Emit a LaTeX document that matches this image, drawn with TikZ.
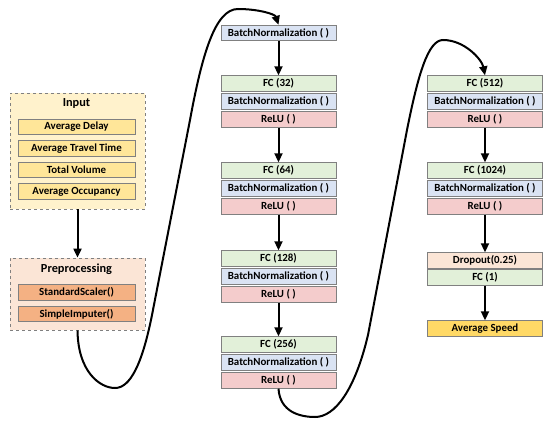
\documentclass[tikz,border=0pt]{standalone}
\usepackage{fontspec}
\setmainfont{Carlito}
\usetikzlibrary{arrows.meta}
\definecolor{inbg}{HTML}{FFF2CC}
\definecolor{initem}{HTML}{FFE699}
\definecolor{prebg}{HTML}{FBE5D6}
\definecolor{preitem}{HTML}{F4B183}
\definecolor{fcg}{HTML}{E2F0D9}
\definecolor{bnb}{HTML}{DAE3F3}
\definecolor{rlr}{HTML}{F4CCCC}
\definecolor{dro}{HTML}{FBE5D6}
\definecolor{avs}{HTML}{FFD966}
\definecolor{bord}{HTML}{808080}
\tikzset{
  layer/.style={draw=bord, line width=0.9pt, minimum width=115pt, minimum height=15.5pt, inner sep=0pt, font=\fontsize{10.9}{12}\selectfont\bfseries},
  fcbox/.style={layer, fill=fcg},
  bnbox/.style={layer, fill=bnb},
  relubox/.style={layer, fill=rlr},
  inbox/.style={layer, fill=initem, minimum width=117pt},
  prebox/.style={layer, fill=preitem, minimum width=117pt},
  grp/.style={draw=bord, dashed, line width=0.8pt, inner sep=0pt},
  ttl/.style={font=\fontsize{12.3}{14}\selectfont\bfseries},
  arr/.style={line width=2pt, -{Triangle[length=9pt,width=8pt]}},
}
\begin{document}
\begin{tikzpicture}[x=1pt,y=-1pt]
\useasboundingbox (0,0) rectangle (550,423);
% Input group
\node[grp, fill=inbg, minimum width=135pt, minimum height=116pt] (inp) at (77.5,151) {};
\node[ttl] (inpt) at (76.5,103) {Input};
\node[inbox] (i1) at (76.5,127) {Average Delay};
\node[inbox] (i2) at (76.5,148.5) {Average Travel Time};
\node[inbox] (i3) at (76.5,170) {Total Volume};
\node[inbox] (i4) at (76.5,191.5) {Average Occupancy};
% Preprocessing group
\node[grp, fill=prebg, minimum width=135pt, minimum height=72pt] (pre) at (77.5,294) {};
\node[ttl] (pret) at (76.5,269) {Preprocessing};
\node[prebox] (p1) at (76.5,292.5) {StandardScaler()};
\node[prebox] (p2) at (76.5,314) {SimpleImputer()};
% middle column
\node[bnbox] (bn0) at (278.5,33) {BatchNormalization ( )};
\node[fcbox] (fc1) at (278.5,83.5) {FC (32)};
\node[bnbox] (bn1) at (278.5,101.5) {BatchNormalization ( )};
\node[relubox] (r1) at (278.5,119.5) {ReLU ( )};
\node[fcbox] (fc2) at (278.5,170.5) {FC (64)};
\node[bnbox] (bn2) at (278.5,188.5) {BatchNormalization ( )};
\node[relubox] (r2) at (278.5,206.5) {ReLU ( )};
\node[fcbox] (fc3) at (278.5,258.5) {FC (128)};
\node[bnbox] (bn3) at (278.5,276.5) {BatchNormalization ( )};
\node[relubox] (r3) at (278.5,294.5) {ReLU ( )};
\node[fcbox] (fc4) at (278.5,344.5) {FC (256)};
\node[bnbox] (bn4) at (278.5,362.5) {BatchNormalization ( )};
\node[relubox] (r4) at (278.5,380.5) {ReLU ( )};
% right column
\node[fcbox] (fc5) at (485,83.5) {FC (512)};
\node[bnbox] (bn5) at (485,101.5) {BatchNormalization ( )};
\node[relubox] (r5) at (485,119.5) {ReLU ( )};
\node[fcbox] (fc6) at (485,170.5) {FC (1024)};
\node[bnbox] (bn6) at (485,188.5) {BatchNormalization ( )};
\node[relubox] (r6) at (485,206.5) {ReLU ( )};
\node[layer, fill=dro] (dr) at (485,260.5) {Dropout(0.25)};
\node[fcbox] (fc7) at (485,277.5) {FC (1)};
\node[layer, fill=avs] (out) at (485,328.5) {Average Speed};
% arrows
\draw[arr] (inp.south) -- (pre.north);
\draw[arr] (bn0.south) -- (fc1.north);
\draw[arr] (r1.south) -- (fc2.north);
\draw[arr] (r2.south) -- (fc3.north);
\draw[arr] (r3.south) -- (fc4.north);
\draw[arr] (r5.south) -- (fc6.north);
\draw[arr] (r6.south) -- (dr.north);
\draw[arr] (fc7.south) -- (out.north);
% curves
\draw[arr] (pre.south) .. controls (78,372) and (100,388) .. (115,388)
  .. controls (130,388) and (142,365) .. (152,315) -- (190,120)
  .. controls (202,55) and (215,9) .. (238,9)
  .. controls (258,9) and (275,14) .. (bn0.north);
\draw[arr] (r4.south) .. controls (280,412) and (300,417) .. (315,417)
  .. controls (335,417) and (355,390) .. (368,335) -- (407,130)
  .. controls (418,75) and (428,40) .. (443,40)
  .. controls (465,40) and (482,60) .. (fc5.north);
\end{tikzpicture}
\end{document}
